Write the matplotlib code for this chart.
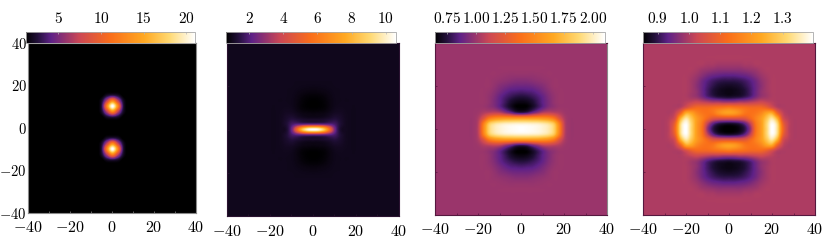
import numpy as np
import matplotlib
matplotlib.use("Agg")
import matplotlib.pyplot as plt
from matplotlib.colors import LinearSegmentedColormap
from matplotlib.ticker import FixedLocator

plt.rcParams["mathtext.fontset"] = "cm"
plt.rcParams["font.family"] = "DejaVu Serif"

W, H = 830, 241
BACKGROUND = [1.0, 1.0, 1.0, 1.0]

# upper-right quadrants, grid step 2.5 starting at (0, 0)
# rows go up in y, columns go right in x; everything outside is background
panel1 = [
    [1, 1, 1, 1],
    [1, 1, 1, 1],
    [3.0, 2.3, 1.1, 1],
    [13, 7.5, 2.3, 1.0],
    [21, 13, 3.0, 1.0],
    [13, 7.5, 2.3, 1.0],
    [3.0, 2.3, 1.1, 1],
    [1, 1, 1, 1],
]
panel2 = [
    [10.6, 10.2, 8.5, 5.5, 2.4, 1.2, 1.05, 1.0],
    [2.3, 2.3, 2.2, 2.1, 1.8, 1.3, 1.05, 1.0],
    [1.1, 1.1, 1.15, 1.25, 1.35, 1.2, 1.05, 1.0],
    [0.85, 0.87, 0.9, 1.0, 1.1, 1.1, 1.03, 1.0],
    [0.68, 0.7, 0.75, 0.88, 1.0, 1.03, 1.01, 1.0],
    [0.66, 0.68, 0.75, 0.87, 0.97, 1.0, 1.0, 1.0],
    [0.72, 0.74, 0.8, 0.9, 0.98, 1.0, 1.0, 1.0],
    [0.85, 0.87, 0.9, 0.95, 0.99, 1.0, 1.0, 1.0],
    [0.95, 0.96, 0.97, 0.99, 1.0, 1.0, 1.0, 1.0],
]
panel3 = [
    [2.10, 2.09, 2.08, 2.06, 2.03, 1.98, 1.86, 1.5, 1.08, 1.0],
    [2.02, 2.02, 2.01, 2.0, 1.97, 1.92, 1.8, 1.45, 1.07, 1.0],
    [1.58, 1.58, 1.58, 1.58, 1.56, 1.52, 1.42, 1.2, 1.04, 1.0],
    [0.80, 0.83, 0.92, 1.0, 1.08, 1.1, 1.08, 1.05, 1.01, 1.0],
    [0.65, 0.66, 0.72, 0.80, 0.88, 0.95, 0.98, 1.0, 1.0, 1.0],
    [0.68, 0.69, 0.73, 0.80, 0.87, 0.93, 0.98, 1.0, 1.0, 1.0],
    [0.75, 0.76, 0.79, 0.83, 0.88, 0.94, 0.98, 1.0, 1.0, 1.0],
    [0.83, 0.84, 0.85, 0.88, 0.92, 0.96, 0.99, 1.0, 1.0, 1.0],
    [0.90, 0.90, 0.91, 0.93, 0.95, 0.98, 1.0, 1.0, 1.0, 1.0],
    [0.95, 0.95, 0.96, 0.97, 0.98, 0.99, 1.0, 1.0, 1.0, 1.0],
    [0.985, 0.985, 0.985, 0.99, 0.995, 1.0, 1.0, 1.0, 1.0, 1.0],
]
panel4 = [
    [0.851, 0.853, 0.865, 0.90, 0.98, 1.13, 1.21, 1.31, 1.397, 1.33, 1.12, 1.02, 1.0],
    [0.88, 0.885, 0.90, 0.94, 1.02, 1.14, 1.21, 1.31, 1.39, 1.32, 1.10, 1.02, 1.0],
    [1.06, 1.06, 1.06, 1.07, 1.11, 1.16, 1.21, 1.28, 1.34, 1.24, 1.05, 1.01, 1.0],
    [1.22, 1.21, 1.18, 1.14, 1.13, 1.14, 1.17, 1.22, 1.23, 1.10, 1.02, 1.0, 1.0],
    [1.15, 1.14, 1.13, 1.12, 1.11, 1.11, 1.11, 1.09, 1.05, 1.01, 1.0, 1.0, 1.0],
    [0.99, 0.99, 1.0, 1.0, 1.01, 1.02, 1.03, 1.02, 1.01, 1.0, 1.0, 1.0, 1.0],
    [0.88, 0.885, 0.89, 0.905, 0.925, 0.955, 0.98, 0.99, 1.0, 1.0, 1.0, 1.0, 1.0],
    [0.865, 0.868, 0.875, 0.89, 0.915, 0.945, 0.975, 0.99, 1.0, 1.0, 1.0, 1.0, 1.0],
    [0.875, 0.878, 0.885, 0.90, 0.92, 0.945, 0.97, 0.99, 1.0, 1.0, 1.0, 1.0, 1.0],
    [0.90, 0.90, 0.905, 0.915, 0.93, 0.95, 0.975, 0.99, 1.0, 1.0, 1.0, 1.0, 1.0],
    [0.935, 0.935, 0.94, 0.945, 0.955, 0.97, 0.985, 0.995, 1.0, 1.0, 1.0, 1.0, 1.0],
    [0.97, 0.97, 0.97, 0.975, 0.98, 0.985, 0.995, 1.0, 1.0, 1.0, 1.0, 1.0, 1.0],
    [0.99, 0.99, 0.99, 0.995, 0.995, 1.0, 1.0, 1.0, 1.0, 1.0, 1.0, 1.0, 1.0],
]

ranges = [(1.16, 21.0), (0.65, 10.6), (0.645, 2.10), (0.851, 1.397)]
cbar_ticks = [
    [5, 10, 15, 20],
    [2, 4, 6, 8, 10],
    [0.75, 1.00, 1.25, 1.50, 1.75, 2.00],
    [0.9, 1.0, 1.1, 1.2, 1.3],
]
cbar_labels = [
    ["5", "10", "15", "20"],
    ["2", "4", "6", "8", "10"],
    ["0.75", "1.00", "1.25", "1.50", "1.75", "2.00"],
    ["0.9", "1.0", "1.1", "1.2", "1.3"],
]
axis_ticks = [-40, -20, 0, 20, 40]

# pixel boxes: left, right, top, bottom
panel_boxes = [(27.5, 196, 43, 213), (226.5, 399, 43, 216), (435, 607, 43, 215), (643, 815, 43, 215)]
cbar_boxes = [(25.5, 195, 32, 42.5), (226, 396, 32, 42.5), (434.5, 604.5, 32, 42.5), (642.5, 813, 32, 42.5)]
spine_colors = ["#8a8a8a", "#2a1230", "#55183f", "#55183f"]
xlabel_pad = [4.5, 5.0, 4.5, 4.5]

sunset = LinearSegmentedColormap.from_list("sunset", [
    (0.0, (0, 0, 0)),
    (0.07, (0.13, 0.06, 0.22)),
    (0.15, (0.37, 0.13, 0.53)),
    (0.32, (0.80, 0.28, 0.33)),
    (0.5, (0.98, 0.43, 0.10)),
    (0.7, (1.0, 0.66, 0.13)),
    (0.85, (1.0, 0.85, 0.45)),
    (1.0, (1.0, 1.0, 1.0)),
], N=512)


def full_field(quadrant):
    q = np.array(quadrant, dtype=float)
    field = np.ones((17, 17))
    field[:q.shape[0], :q.shape[1]] = q
    right = np.vstack([field[:0:-1], field])
    return np.hstack([right[:, :0:-1], right])


def to_axes_rect(box):
    left, right, top, bottom = box
    return [left / W, 1 - bottom / H, (right - left) / W, (bottom - top) / H]


def math_label(v):
    return f"${v}$"


fig = plt.figure(figsize=(W / 100, H / 100), dpi=100)
quadrants = [panel1, panel2, panel3, panel4]

for i, quadrant in enumerate(quadrants):
    ax = fig.add_axes(to_axes_rect(panel_boxes[i]))
    vmin, vmax = ranges[i]
    # catrom passes through the grid values, agg's bicubic smooths the peaks away
    im = ax.imshow(full_field(quadrant), origin="lower", extent=[-41.25, 41.25, -41.25, 41.25],
                   cmap=sunset, vmin=vmin, vmax=vmax, interpolation="catrom",
                   interpolation_stage="data", aspect="auto")
    ax.set_xlim(-40, 40)
    ax.set_ylim(-40, 40)
    ax.set_xticks(axis_ticks)
    ax.set_xticklabels([math_label(t) for t in axis_ticks], fontsize=11.5)
    ax.xaxis.set_minor_locator(FixedLocator(np.arange(-30, 31, 20)))
    if i == 0:
        ax.set_yticks(axis_ticks)
        ax.set_yticklabels([math_label(t) for t in axis_ticks], fontsize=10.5)
        ax.tick_params(axis="y", which="major", pad=0.5, length=0)
    else:
        ax.set_yticks(axis_ticks)
        ax.set_yticklabels([])
        ax.tick_params(axis="y", which="major", length=1.5, direction="in", color=spine_colors[i], width=0.5)
    ax.tick_params(axis="x", which="both", direction="in", length=1.5, width=0.5,
                   color=spine_colors[i], pad=xlabel_pad[i])
    for name, spine in ax.spines.items():
        spine.set_color("#8a8a8a" if name == "right" and i == 2 else spine_colors[i])
        spine.set_linewidth(0.8)

    cax = fig.add_axes(to_axes_rect(cbar_boxes[i]), zorder=3)
    cb = fig.colorbar(im, cax=cax, orientation="horizontal")
    cb.set_ticks(cbar_ticks[i])
    cb.set_ticklabels([math_label(t) for t in cbar_labels[i]], fontsize=11)
    cax.xaxis.set_ticks_position("top")
    cax.tick_params(axis="x", which="major", direction="in", length=1.5, width=0.5, color="#b8b8b8", pad=4)
    cax.minorticks_off()
    cb.outline.set_edgecolor("#a8a8a8")
    cb.outline.set_linewidth(0.6)

fig.savefig("out.png", dpi=100, facecolor=BACKGROUND)
